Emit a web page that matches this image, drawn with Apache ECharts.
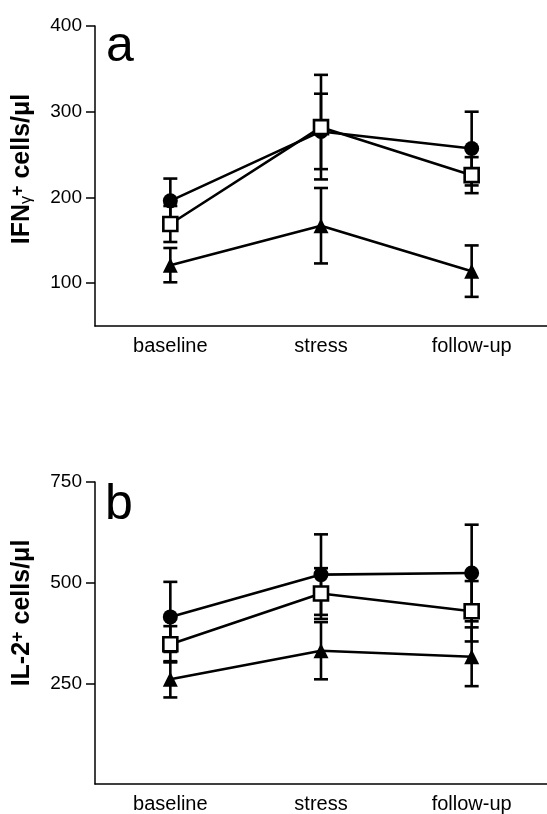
<!DOCTYPE html>
<html>
<head>
<meta charset="utf-8">
<script src="https://cdn.jsdelivr.net/npm/echarts@6/dist/echarts.min.js"></script>
<style>
  html, body { margin: 0; padding: 0; background: #fff; }
  #chart { width: 547px; height: 814px; }
</style>
</head>
<body>
<div id="chart"></div>
<script>
var categories = ['baseline', 'stress', 'follow-up'];

// panel a: IFN-gamma+ cells/ul (mean and error)
var ifnCircle = [196, 277, 257];
var ifnCircleErr = [26, 44, 43];
var ifnSquare = [169, 282, 226];
var ifnSquareErr = [21, 61, 21];
var ifnTriangle = [121, 167, 114];
var ifnTriangleErr = [20, 44, 30];
var ifnTicks = [100, 200, 300, 400];

// panel b: IL-2+ cells/ul
var il2Circle = [415, 520, 524];
var il2CircleErr = [87, 100, 120];
var il2Square = [347, 473, 429];
var il2SquareErr = [45, 63, 75];
var il2Triangle = [260, 331, 316];
var il2TriangleErr = [45, 71, 73];
var il2Ticks = [250, 500, 750];

var font = 'Liberation Sans, Arial, sans-serif';

function lineSeries(values, symbol, filled, idx) {
    return {
        type: 'line',
        xAxisIndex: idx,
        yAxisIndex: idx,
        data: values,
        symbol: symbol,
        symbolSize: symbol === 'rect' ? 14 : 15,
        lineStyle: { color: '#000', width: 2.6 },
        itemStyle: { color: filled ? '#000' : '#fff', borderColor: '#000', borderWidth: filled ? 0 : 2.6 },
        z: 3,
        animation: false
    };
}

function errorSeries(values, errs, idx) {
    return {
        type: 'custom',
        xAxisIndex: idx,
        yAxisIndex: idx,
        z: 2,
        encode: { x: 0, y: [1, 2] },
        data: values.map(function(v, i) { return [i, v - errs[i], v + errs[i]]; }),
        renderItem: function(params, api) {
            var lo = api.coord([api.value(0), api.value(1)]);
            var hi = api.coord([api.value(0), api.value(2)]);
            var w = 7;
            var st = { stroke: '#000', lineWidth: 2.6, fill: null };
            return {
                type: 'group',
                children: [
                    { type: 'line', shape: { x1: hi[0], y1: hi[1], x2: lo[0], y2: lo[1] }, style: st },
                    { type: 'line', shape: { x1: hi[0] - w, y1: hi[1], x2: hi[0] + w, y2: hi[1] }, style: st },
                    { type: 'line', shape: { x1: lo[0] - w, y1: lo[1], x2: lo[0] + w, y2: lo[1] }, style: st }
                ]
            };
        },
        animation: false
    };
}

function xAxisFor(idx) {
    return {
        type: 'category',
        gridIndex: idx,
        data: categories,
        boundaryGap: true,
        axisLine: { lineStyle: { color: '#000', width: 1.5 } },
        axisTick: { alignWithLabel: true, length: 8, lineStyle: { color: '#000', width: 1.5 } },
        axisLabel: { color: '#000', fontSize: 20, fontFamily: font, margin: 10 }
    };
}

function yAxisFor(idx, min, max, ticks) {
    return {
        type: 'value',
        gridIndex: idx,
        min: min,
        max: max,
        splitLine: { show: false },
        axisLine: { show: true, lineStyle: { color: '#000', width: 1.5 } },
        axisTick: { show: true, length: 9, customValues: ticks, lineStyle: { color: '#000', width: 1.5 } },
        axisLabel: { color: '#000', fontSize: 19, fontFamily: font, margin: 13, customValues: ticks }
    };
}

var titleRich = {
    b: { fontSize: 25, fontWeight: 'bold', fontFamily: font, fill: '#000' },
    g: { fontSize: 16, fontWeight: 'normal', fontFamily: font, fill: '#000', verticalAlign: 'bottom' },
    sup: { fontSize: 18, fontWeight: 'bold', fontFamily: font, fill: '#000', verticalAlign: 'top' }
};

var chart = echarts.init(document.getElementById('chart'));
chart.setOption({
    backgroundColor: '#fff',
    animation: false,
    grid: [
        { left: 95, right: 0, top: 26, height: 300 },
        { left: 95, right: 0, top: 482, height: 302 }
    ],
    xAxis: [xAxisFor(0), xAxisFor(1)],
    yAxis: [yAxisFor(0, 50, 400, ifnTicks), yAxisFor(1, 0, 750, il2Ticks)],
    graphic: [
        { type: 'text', left: 106, top: 22, style: { text: 'a', fontSize: 50, fontFamily: font, fill: '#000' } },
        { type: 'text', left: 105, top: 480, style: { text: 'b', fontSize: 50, fontFamily: font, fill: '#000' } },
        {
            type: 'text', x: 22, y: 169, rotation: Math.PI / 2,
            style: { text: '{b|IFN}{g|γ}{sup|+}{b| cells/μl}', rich: titleRich, align: 'center', verticalAlign: 'middle' }
        },
        {
            type: 'text', x: 22, y: 613, rotation: Math.PI / 2,
            style: { text: '{b|IL-2}{sup|+}{b| cells/μl}', rich: titleRich, align: 'center', verticalAlign: 'middle' }
        }
    ],
    series: [
        errorSeries(ifnCircle, ifnCircleErr, 0),
        errorSeries(ifnSquare, ifnSquareErr, 0),
        errorSeries(ifnTriangle, ifnTriangleErr, 0),
        lineSeries(ifnCircle, 'circle', true, 0),
        lineSeries(ifnTriangle, 'triangle', true, 0),
        lineSeries(ifnSquare, 'rect', false, 0),
        errorSeries(il2Circle, il2CircleErr, 1),
        errorSeries(il2Square, il2SquareErr, 1),
        errorSeries(il2Triangle, il2TriangleErr, 1),
        lineSeries(il2Circle, 'circle', true, 1),
        lineSeries(il2Triangle, 'triangle', true, 1),
        lineSeries(il2Square, 'rect', false, 1)
    ]
});
</script>
</body>
</html>
